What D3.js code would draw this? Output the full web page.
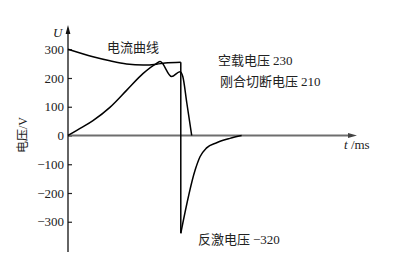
<!DOCTYPE html>
<html>
<head>
<meta charset="utf-8">
<script src="https://cdn.jsdelivr.net/npm/d3@7"></script>
<style>
  body { margin: 0; background: #fff; }
  svg { display: block; }
  .cjk { font-family: "Noto Sans CJK SC", sans-serif; }
  .num { font-family: "Liberation Serif", serif; }
</style>
</head>
<body>
<svg width="400" height="267"></svg>
<script>
// data (time in arbitrary ms units, voltage in V)
const yTicks = [300, 200, 100, 0, -100, -200, -300];

// current curve: upper branch before switching
const topT = [0, 0.87, 1.46, 2.04, 2.62, 3.09, 3.38, 3.93];
const topV = [300, 274, 260, 249, 245, 248, 252, 255];

// switch instant: vertical drop to flyback peak
const spikeT = [3.93, 3.93];
const spikeV = [255, -340];

// recovery after flyback
const recT = [3.93, 4.43, 4.6, 4.83, 5.18, 5.64, 6.05];
const recV = [-340, -120, -74, -43, -25, -10, 0];

// rising voltage curve
const riseT = [0, 0.5, 0.87, 1.46, 2.04, 2.62, 3.09, 3.21, 3.61, 3.9, 4.0, 4.14, 4.31];
const riseV = [0, 29, 52, 98, 157, 216, 251, 257, 205, 222, 205, 113, 0];

const svg = d3.select("svg");

const x = d3.scaleLinear()
  .domain([0, 10])
  .range([68, 355]);

const y = d3.scaleLinear()
  .domain([0, 300])
  .range([135.5, 49.25]);

const line = d3.line()
  .x(d => x(d[0]))
  .y(d => y(d[1]));

const zip = (a, b) => a.map((t, i) => [t, b[i]]);

// y axis ticks (inside), labels on the left
svg.append("g")
  .attr("transform", "translate(68,0)")
  .call(d3.axisLeft(y)
    .tickValues(yTicks)
    .tickSize(-4)
    .tickPadding(4)
    .tickFormat(d => d < 0 ? "\u2212" + (-d) : d))
  .attr("font-family", "Liberation Serif, serif")
  .attr("font-size", 13)
  .call(g => g.select(".domain").remove())
  .call(g => g.selectAll(".tick text").attr("fill", "#222"))
  .call(g => g.selectAll(".tick line").attr("stroke", "#222").attr("stroke-width", 1.2));

// x axis (grey) with arrow
svg.append("line")
  .attr("x1", 68).attr("x2", 350)
  .attr("y1", y(0)).attr("y2", y(0))
  .attr("stroke", "#6e6e6e")
  .attr("stroke-width", 2);

svg.append("path")
  .attr("d", `M357,${y(0)} L348,${y(0) - 2.5} L348,${y(0) + 2.5} Z`)
  .attr("fill", "#444");

// y axis with arrow
svg.append("line")
  .attr("x1", 68).attr("x2", 68)
  .attr("y1", 252).attr("y2", 30)
  .attr("stroke", "#111")
  .attr("stroke-width", 1.3);

svg.append("path")
  .attr("d", "M68,25 L65.6,34 L70.4,34 Z")
  .attr("fill", "#111");

// curves
const curves = svg.append("g")
  .attr("fill", "none")
  .attr("stroke", "#000")
  .attr("stroke-width", 1.5)
  .attr("stroke-linejoin", "round");

curves.append("path")
  .attr("d", line.curve(d3.curveMonotoneX)(zip(topT, topV)));

curves.append("path")
  .attr("d", line.curve(d3.curveLinear)(zip(spikeT, spikeV)));

curves.append("path")
  .attr("d", line.curve(d3.curveMonotoneX)(zip(recT, recV)));

curves.append("path")
  .attr("d", line.curve(d3.curveMonotoneX)(zip(riseT, riseV)));

// axis titles
svg.append("text")
  .attr("x", 53)
  .attr("y", 37)
  .attr("font-family", "Liberation Serif, serif")
  .attr("font-style", "italic")
  .attr("font-size", 13)
  .attr("fill", "#222")
  .text("U");

const xt = svg.append("text")
  .attr("x", 344)
  .attr("y", 149)
  .attr("font-family", "Liberation Serif, serif")
  .attr("font-size", 13)
  .attr("fill", "#222");
xt.append("tspan").attr("font-style", "italic").text("t");
xt.append("tspan").text(" /ms");

const yt = svg.append("text")
  .attr("transform", "translate(27,135) rotate(-90)")
  .attr("text-anchor", "middle")
  .attr("font-size", 12)
  .attr("fill", "#222");
yt.append("tspan").attr("class", "cjk").text("电压");
yt.append("tspan").attr("class", "num").text("/V");

// annotations
function label(px, py, cjk, num) {
  const t = svg.append("text")
    .attr("x", px)
    .attr("y", py)
    .attr("font-size", 13)
    .attr("fill", "#222");
  t.append("tspan").attr("class", "cjk").text(cjk);
  if (num) t.append("tspan").attr("class", "num").attr("dx", 3).text(num);
}

label(107, 52, "电流曲线");
label(218, 65, "空载电压", "230");
label(220, 86, "刚合切断电压", "210");
label(198, 244, "反激电压", "\u2212320");
</script>
</body>
</html>
